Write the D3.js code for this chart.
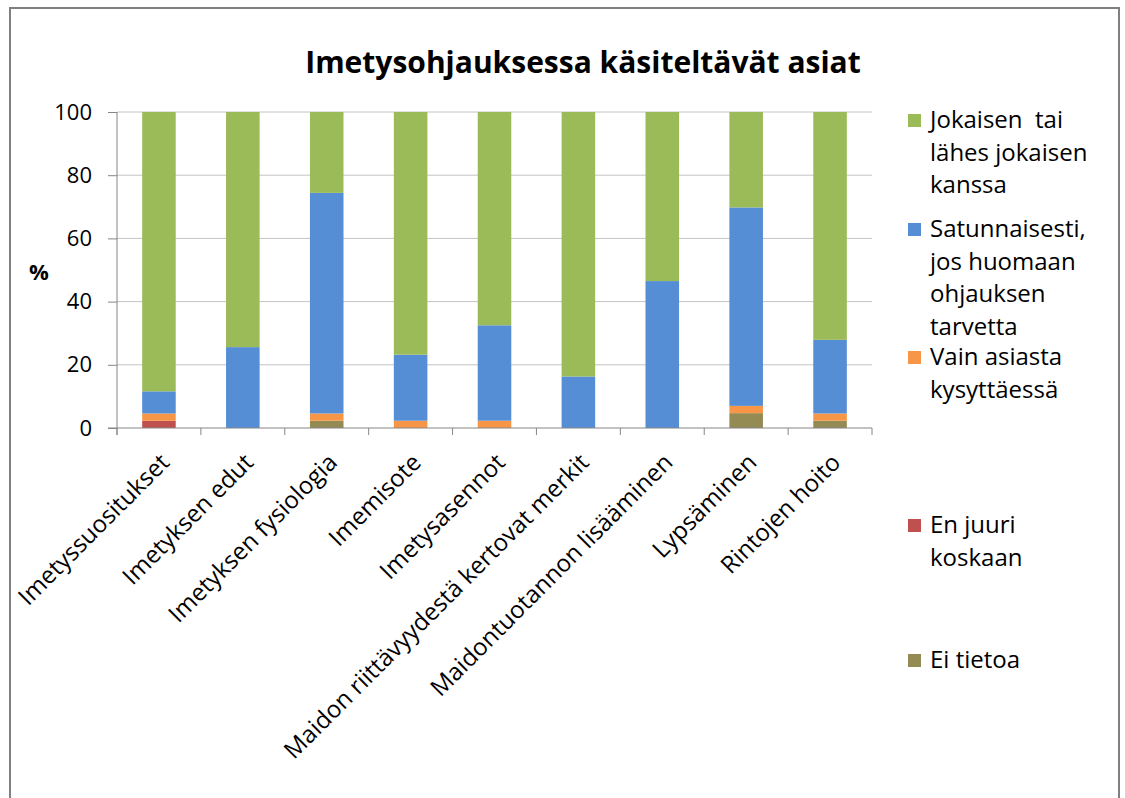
<!DOCTYPE html>
<meta charset="utf-8">
<script src="https://cdn.jsdelivr.net/npm/d3@7"></script>
<style>
  body { margin: 0; background: #fff; }
  text { font-family: "Open Sans", sans-serif; fill: #000; }
  .tick text { font-size: 22px; }
  .legend text { font-size: 24px; white-space: pre; }
</style>
<body>
<script>

var categories = ["Imetyssuositukset", "Imetyksen edut", "Imetyksen fysiologia", "Imemisote",
  "Imetysasennot", "Maidon riittävyydestä kertovat merkit", "Maidontuotannon lisääminen",
  "Lypsäminen", "Rintojen hoito"];

// series, bottom to top of each bar (%)
var eiTietoa        = [0,    0,    2.3,  0,    0,    0,    0,    4.7,  2.3];
var enJuuriKoskaan  = [2.3,  0,    0,    0,    0,    0,    0,    0,    0];
var vainKysyttaessa = [2.3,  0,    2.3,  2.3,  2.3,  0,    0,    2.3,  2.3];
var satunnaisesti   = [7.0,  25.6, 69.8, 20.9, 30.2, 16.3, 46.5, 62.8, 23.3];
var jokaisen        = [88.4, 74.4, 25.6, 76.8, 67.5, 83.7, 53.5, 30.2, 72.1];

var yTicks = [0, 20, 40, 60, 80, 100];

var seriesKeys = ["ei", "en", "vain", "sat", "jok"];
var seriesColors = {ei: "#948a54", en: "#c0504d", vain: "#f79646", sat: "#558ed5", jok: "#9bbb59"};

// legend is listed top to bottom
var legendItems = [
  {key: "jok", lines: ["Jokaisen  tai", "lähes jokaisen", "kanssa"]},
  {key: "sat", lines: ["Satunnaisesti,", "jos huomaan", "ohjauksen", "tarvetta"]},
  {key: "vain", lines: ["Vain asiasta", "kysyttäessä"]},
  {key: "en", lines: ["En juuri", "koskaan"]},
  {key: "ei", lines: ["Ei tietoa"]}
];
var legendTop = [120, 229, 357, 525, 660];

var rows = categories.map(function(c, i) {
  return {cat: c, ei: eiTietoa[i], en: enJuuriKoskaan[i], vain: vainKysyttaessa[i],
          sat: satunnaisesti[i], jok: jokaisen[i]};
});

var width = 1125, height = 798;

var svg = d3.select("body").append("svg")
    .attr("width", width)
    .attr("height", height);

svg.append("rect")
    .attr("width", width).attr("height", height)
    .attr("fill", "#fff");

// chart frame
svg.append("rect")
    .attr("x", 10).attr("y", 8)
    .attr("width", 1109).attr("height", 820)
    .attr("fill", "none")
    .attr("stroke", "#808080")
    .attr("stroke-width", 2);

var x = d3.scaleBand()
    .domain(categories)
    .range([117, 872])
    .paddingInner(0.6)
    .paddingOuter(0.3);

var y = d3.scaleLinear()
    .domain([0, 100])
    .range([428, 112]);

// gridlines
svg.append("g")
    .selectAll("line")
    .data(yTicks.filter(function(d) { return d > 0; }))
    .enter().append("line")
    .attr("x1", 117).attr("x2", 872)
    .attr("y1", function(d) { return y(d); })
    .attr("y2", function(d) { return y(d); })
    .attr("stroke", "#c4c4c4")
    .attr("stroke-width", 1);

var stack = d3.stack().keys(seriesKeys)(rows);

svg.append("g")
    .selectAll("g")
    .data(stack)
    .enter().append("g")
    .attr("fill", function(s) { return seriesColors[s.key]; })
    .selectAll("rect")
    .data(function(s) { return s; })
    .enter().append("rect")
    .attr("x", function(d) { return x(d.data.cat); })
    .attr("width", x.bandwidth())
    .attr("y", function(d) { return y(d[1]); })
    .attr("height", function(d) { return y(d[0]) - y(d[1]); });

// y axis
var yAxis = svg.append("g")
    .attr("transform", "translate(117,0)")
    .call(d3.axisLeft(y).tickValues(yTicks).tickSize(9).tickPadding(16));
yAxis.selectAll("line, path").attr("stroke", "#868686");
yAxis.select(".domain").attr("d", "M0," + y(100) + "V" + (y(0) + 7));

// x axis: ticks on band boundaries
var bounds = categories.map(function(c) { return x(c) - x.step() * x.paddingOuter(); });
bounds.push(872);
svg.append("line")
    .attr("x1", 108).attr("x2", 872)
    .attr("y1", y(0)).attr("y2", y(0))
    .attr("stroke", "#868686");
svg.append("g")
    .selectAll("line")
    .data(bounds)
    .enter().append("line")
    .attr("x1", function(d) { return d; })
    .attr("x2", function(d) { return d; })
    .attr("y1", y(0)).attr("y2", y(0) + 7)
    .attr("stroke", "#868686");

svg.append("g")
    .selectAll("text")
    .data(categories)
    .enter().append("text")
    .attr("transform", function(d) {
      return "translate(" + (x(d) + x.bandwidth() / 2 + 6) + ",458) rotate(-45)";
    })
    .attr("text-anchor", "end")
    .attr("dy", "0.35em")
    .style("font-size", "24px")
    .text(function(d) { return d; });

svg.append("text")
    .attr("x", 39).attr("y", 272)
    .attr("dy", "0.35em")
    .attr("text-anchor", "middle")
    .style("font-size", "22px")
    .style("font-weight", 700)
    .text("%");

// title
svg.append("text")
    .attr("x", 583).attr("y", 73)
    .attr("text-anchor", "middle")
    .style("font-size", "30px")
    .style("font-weight", 700)
    .text("Imetysohjauksessa käsiteltävät asiat");

// legend
var legend = svg.append("g")
    .attr("class", "legend")
    .selectAll("g")
    .data(legendItems)
    .enter().append("g")
    .attr("transform", function(d, i) { return "translate(908," + legendTop[i] + ")"; });

legend.append("rect")
    .attr("x", 0).attr("y", -6)
    .attr("width", 13).attr("height", 13)
    .attr("fill", function(d) { return seriesColors[d.key]; });

legend.append("text")
    .selectAll("tspan")
    .data(function(d) { return d.lines; })
    .enter().append("tspan")
    .attr("x", 22)
    .attr("y", function(d, i) { return i * 32.5; })
    .attr("dy", "0.35em")
    .text(function(d) { return d; });

</script>
</body>
